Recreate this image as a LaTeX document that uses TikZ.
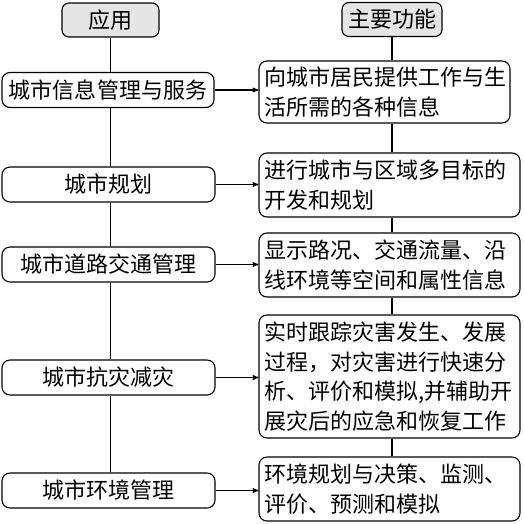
\documentclass[tikz,border=0pt]{standalone}
\usepackage{fontspec}
\newfontfamily\cjk{Noto Sans CJK SC}
\usepackage{tikz}
\usetikzlibrary{arrows, positioning, calc}

\begin{document}
\begin{tikzpicture}[
    x=1pt, y=-1pt,
    line width=1.1pt,
    >=stealth',
    every node/.style={font=\cjk\fontsize{22}{29.5}\selectfont},
    head/.style={draw, rounded corners=7pt, fill=gray!20, minimum width=97pt, minimum height=34pt, inner sep=0pt},
    app/.style={draw, rounded corners=8pt, minimum width=213pt, minimum height=35pt, inner sep=0pt},
    func/.style={draw, rounded corners=8pt, align=left, text width=251pt, inner xsep=5pt, inner ysep=2pt}
]
\useasboundingbox (0,0) rectangle (524,523);

% Headers
\node[head] (h1) at (110.5,20) {应用};
\node[head, minimum width=100pt] (h2) at (392,19.5) {主要功能};

% Applications
\node[app, minimum width=212pt] (l1) at (108,90) {城市信息管理与服务};
\node[app] (l2) at (108.5,184.5) {城市规划};
\node[app] (l3) at (108.5,264.5) {城市道路交通管理};
\node[app] (l4) at (108.5,377.5) {城市抗灾减灾};
\node[app] (l5) at (108.5,490.5) {城市环境管理};

% Functions
\node[func, text width=241pt, minimum height=62pt] (r1) at (384.5,92) {向城市居民提供工作与生\\活所需的各种信息};
\node[func, minimum height=64pt] (r2) at (389.5,185) {进行城市与区域多目标的\\开发和规划};
\node[func, minimum height=64pt] (r3) at (389.5,265) {显示路况、交通流量、沿\\线环境等空间和属性信息};
\node[func, minimum height=123pt] (r4) at (389.5,376.5) {实时跟踪灾害发生、发展\\过程，对灾害进行快速分\\析、评价和模拟,并辅助开\\展灾后的应急和恢复工作};
\node[func, minimum height=64pt] (r5) at (389.5,489) {环境规划与决策、监测、\\评价、预测和模拟};

% Vertical lines
\draw (h1.south) -- (h1 |- l1.north);
\foreach \a/\b in {l1/l2, l2/l3, l3/l4, l4/l5}
    \draw (h1 |- \a.south) -- (h1 |- \b.north);
\draw (h2.south) -- (h2 |- r1.north);
\foreach \a/\b in {r1/r2, r2/r3, r3/r4, r4/r5}
    \draw (h2 |- \a.south) -- (h2 |- \b.north);

% Arrows
\foreach \i in {1,...,5}
    \draw[->] (l\i.east) -- (l\i.east -| r\i.west);

\end{tikzpicture}
\end{document}
